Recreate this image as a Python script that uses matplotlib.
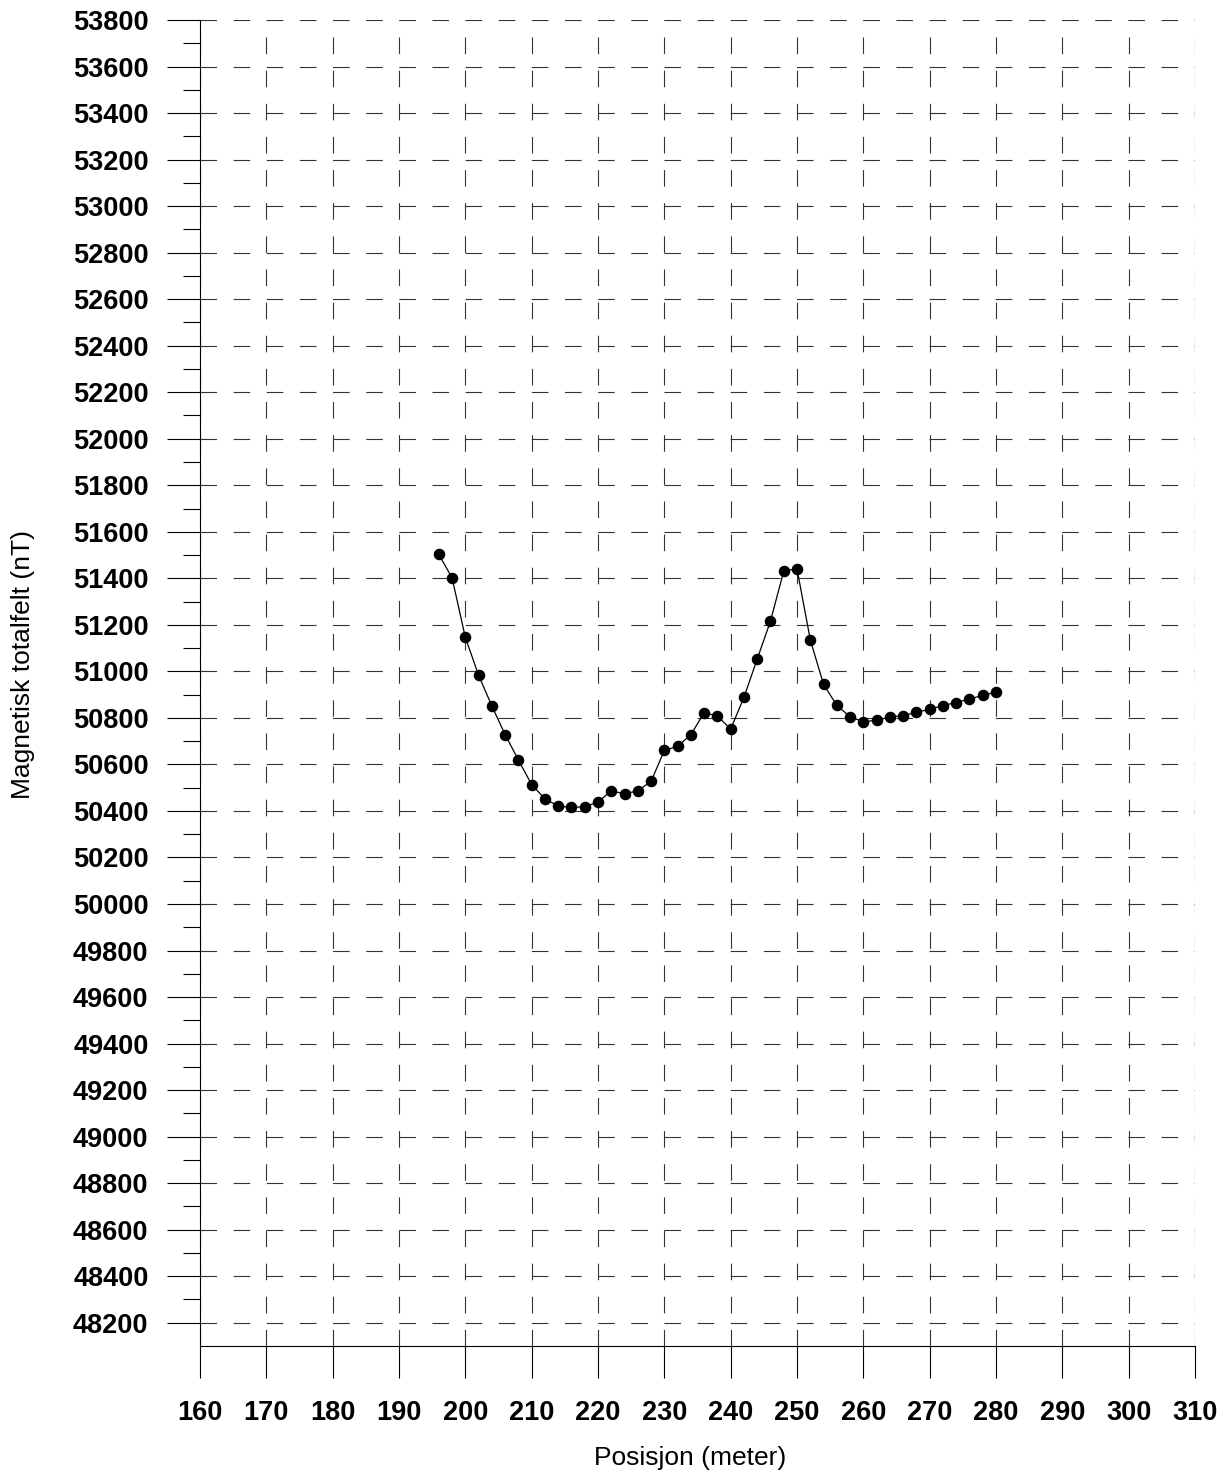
import numpy as np
import matplotlib
matplotlib.use("Agg")
import matplotlib.pyplot as plt
from matplotlib.ticker import FixedLocator, MultipleLocator

plt.rcParams['font.family'] = ['Liberation Sans', 'DejaVu Sans']
plt.rcParams['lines.scale_dashes'] = False

# profile positions (m) and total field readings (nT)
posisjon = [196, 198, 200, 202, 204, 206, 208, 210, 212, 214, 216, 218, 220,
            222, 224, 226, 228, 230, 232, 234, 236, 238, 240, 242, 244, 246,
            248, 250, 252, 254, 256, 258, 260, 262, 264, 266, 268, 270, 272,
            274, 276, 278, 280]
totalfelt = [51503, 51402, 51146, 50983, 50851, 50728, 50619, 50513, 50452,
             50421, 50415, 50418, 50438, 50487, 50473, 50487, 50527, 50660,
             50678, 50728, 50822, 50808, 50752, 50888, 51053, 51216, 51431,
             51441, 51136, 50944, 50854, 50805, 50783, 50790, 50804, 50810,
             50824, 50837, 50853, 50866, 50881, 50897, 50911]

x_ticks = list(range(160, 311, 10))
y_major = list(range(48200, 53801, 200))
y_minor = list(range(48300, 53701, 200))

fig = plt.figure(figsize=(12.3, 14.72), dpi=100)
ax = fig.add_axes([200 / 1230, 1 - 1346 / 1472, 995 / 1230, 1326 / 1472])

ax.set_xlim(160, 310)
ax.set_ylim(48100, 53800)

ax.xaxis.set_major_locator(FixedLocator(x_ticks))
ax.yaxis.set_major_locator(FixedLocator(y_major))
ax.yaxis.set_minor_locator(FixedLocator(y_minor))

for s in ['top', 'right']:
    ax.spines[s].set_visible(False)
for s in ['left', 'bottom']:
    ax.spines[s].set_linewidth(0.8)

ax.tick_params(axis='x', which='major', direction='out', length=23, width=0.8,
               pad=16, labelsize=19.5)
ax.tick_params(axis='y', which='major', direction='out', length=24, width=0.8,
               pad=13, labelsize=19.5)
ax.tick_params(axis='y', which='minor', direction='out', length=12, width=0.8)
for lab in ax.get_xticklabels() + ax.get_yticklabels():
    lab.set_fontweight('bold')

ax.grid(True, which='major', color='0.2', linewidth=0.8,
        linestyle=(0, (11.93, 11.93)))
ax.set_axisbelow(True)

ax.plot(posisjon, totalfelt, color='black', linewidth=0.9,
        marker='o', markersize=7.3, zorder=3)

ax.set_xlabel('Posisjon (meter)', fontsize=19, va='center')
ax.xaxis.set_label_coords(0.4925, -0.0845)
ax.set_ylabel('Magnetisk totalfelt (nT)', fontsize=19, va='center')
ax.yaxis.set_label_coords(-0.1775, 0.514)

fig.savefig('out.png', dpi=100)
